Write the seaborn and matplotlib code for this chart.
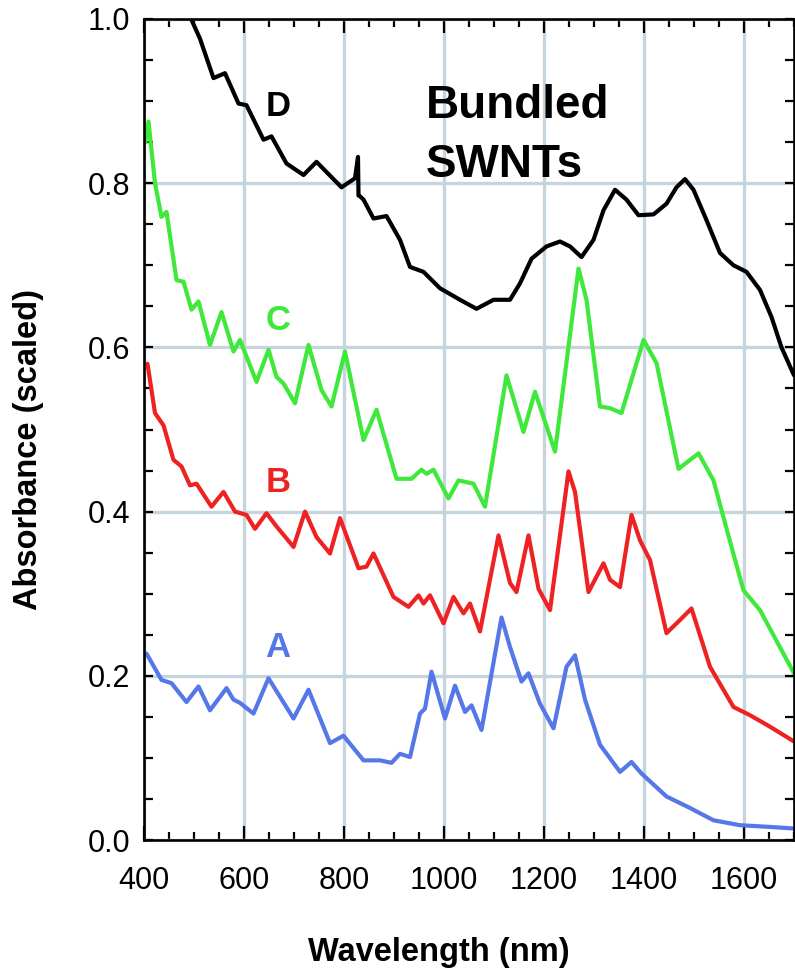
import numpy as np
import pandas as pd
import matplotlib
matplotlib.use("Agg")
import matplotlib.pyplot as plt
from matplotlib.ticker import MultipleLocator, FormatStrFormatter
import seaborn as sns

# ---- data ----
A_nm = [405, 435, 455, 485, 509, 532, 565, 579, 592, 619, 649, 699, 729, 772, 799, 839, 872, 895,
        912, 932, 952, 962, 975, 1002, 1022, 1042, 1055, 1075, 1115, 1132, 1155, 1169, 1192, 1219,
        1245, 1262, 1282, 1312, 1352, 1375, 1395, 1445, 1492, 1539, 1592, 1650, 1700]
A_val = [0.227, 0.195, 0.191, 0.168, 0.187, 0.158, 0.185, 0.171, 0.167, 0.154, 0.197, 0.148, 0.183,
         0.118, 0.127, 0.097, 0.097, 0.094, 0.105, 0.101, 0.154, 0.160, 0.205, 0.148, 0.188, 0.156,
         0.164, 0.134, 0.271, 0.235, 0.193, 0.203, 0.166, 0.136, 0.211, 0.225, 0.171, 0.116, 0.083,
         0.095, 0.081, 0.053, 0.039, 0.024, 0.018, 0.016, 0.014]

B_nm = [407, 422, 439, 459, 475, 492, 505, 535, 559, 582, 605, 622, 645, 665, 699, 722, 745, 772,
        792, 829, 845, 859, 899, 929, 949, 959, 972, 999, 1019, 1039, 1052, 1072, 1109, 1132, 1145,
        1169, 1189, 1212, 1249, 1262, 1289, 1319, 1332, 1352, 1375, 1392, 1412, 1445, 1472, 1495,
        1532, 1579, 1612, 1652, 1700]
B_val = [0.580, 0.520, 0.505, 0.463, 0.455, 0.432, 0.434, 0.406, 0.424, 0.400, 0.396, 0.379, 0.398,
         0.382, 0.357, 0.400, 0.369, 0.349, 0.392, 0.331, 0.333, 0.349, 0.296, 0.284, 0.298, 0.288,
         0.298, 0.264, 0.296, 0.276, 0.288, 0.254, 0.371, 0.313, 0.302, 0.371, 0.306, 0.280, 0.449,
         0.424, 0.302, 0.337, 0.317, 0.308, 0.396, 0.365, 0.341, 0.252, 0.268, 0.282, 0.211, 0.162,
         0.152, 0.138, 0.120]

C_nm = [403, 409, 422, 435, 445, 465, 479, 495, 509, 532, 555, 579, 592, 625, 649, 665, 679, 702,
        729, 755, 775, 802, 839, 865, 905, 935, 955, 965, 979, 1009, 1029, 1059, 1082, 1125, 1159,
        1182, 1222, 1269, 1285, 1312, 1332, 1355, 1399, 1425, 1469, 1509, 1539, 1575, 1599, 1632, 1700]
C_val = [0.850, 0.875, 0.800, 0.759, 0.765, 0.682, 0.680, 0.646, 0.656, 0.603, 0.643, 0.595, 0.609,
         0.558, 0.597, 0.564, 0.556, 0.532, 0.603, 0.548, 0.528, 0.595, 0.487, 0.524, 0.440, 0.440,
         0.451, 0.446, 0.451, 0.416, 0.438, 0.434, 0.406, 0.566, 0.497, 0.546, 0.473, 0.696, 0.658,
         0.528, 0.526, 0.520, 0.609, 0.581, 0.452, 0.471, 0.438, 0.357, 0.304, 0.280, 0.203]

D_nm = [480, 495, 512, 539, 562, 589, 605, 639, 655, 685, 719, 745, 795, 822, 828, 829, 832, 839,
        859, 885, 912, 932, 959, 992, 1032, 1065, 1099, 1132, 1152, 1175, 1205, 1232, 1252, 1275,
        1299, 1319, 1342, 1365, 1389, 1419, 1445, 1465, 1482, 1499, 1525, 1552, 1579, 1605, 1632,
        1655, 1675, 1700]
D_val = [1.020, 0.999, 0.976, 0.928, 0.934, 0.897, 0.895, 0.853, 0.857, 0.824, 0.810, 0.826, 0.795,
         0.806, 0.832, 0.785, 0.784, 0.780, 0.757, 0.760, 0.731, 0.698, 0.692, 0.672, 0.658, 0.647,
         0.658, 0.658, 0.678, 0.708, 0.723, 0.729, 0.723, 0.710, 0.731, 0.767, 0.792, 0.780, 0.761,
         0.762, 0.775, 0.795, 0.805, 0.792, 0.755, 0.715, 0.700, 0.692, 0.670, 0.637, 0.600, 0.566]

series_names = ["A", "B", "C", "D"]
series_colors = {"A": "#5577e8", "B": "#ee2222", "C": "#3fe83a", "D": "#000000"}
label_pos_nm = [668, 668, 668, 668]
label_pos_val = [0.234, 0.435, 0.633, 0.894]
x_ticks = [400, 600, 800, 1000, 1200, 1400, 1600]

frames = []
for name, xs, ys in zip(series_names, [A_nm, B_nm, C_nm, D_nm], [A_val, B_val, C_val, D_val]):
    frames.append(pd.DataFrame({"nm": xs, "abs": ys, "series": name}))
df = pd.concat(frames, ignore_index=True)

# ---- styling ----
sns.set_style("white")
plt.rcParams["font.family"] = ["Liberation Sans", "DejaVu Sans"]
plt.rcParams["text.color"] = "black"
plt.rcParams["axes.labelcolor"] = "black"
plt.rcParams["xtick.color"] = "black"
plt.rcParams["ytick.color"] = "black"

W, H = 795, 969
fig = plt.figure(figsize=(W / 100, H / 100), dpi=100)
L, R, T, B = 144, 794, 19, 840
ax = fig.add_axes([L / W, (H - B) / H, (R - L) / W, (B - T) / H])

for name in series_names:
    sub = df[df["series"] == name]
    sns.lineplot(data=sub, x="nm", y="abs", sort=False, estimator=None, ax=ax,
                 color=series_colors[name], linewidth=3.0, legend=False,
                 solid_joinstyle="round", solid_capstyle="round")

ax.set_xlim(400, 1700)
ax.set_ylim(0, 1.0)
ax.xaxis.set_major_locator(plt.FixedLocator(x_ticks))
ax.xaxis.set_minor_locator(MultipleLocator(50))
ax.yaxis.set_major_locator(MultipleLocator(0.2))
ax.yaxis.set_minor_locator(MultipleLocator(0.05))
ax.yaxis.set_major_formatter(FormatStrFormatter("%.1f"))

ax.grid(True, which="major", color="#c6d4de", linewidth=2.4)
ax.set_axisbelow(True)

for sp in ax.spines.values():
    sp.set_linewidth(1.9)
    sp.set_color("black")

ax.tick_params(axis="x", which="major", direction="in", length=10, width=1.6,
               top=True, bottom=True, labelsize=22, pad=19, colors="black")
ax.tick_params(axis="x", which="minor", direction="in", length=5.5, width=1.6,
               top=True, bottom=True, colors="black")
ax.tick_params(axis="y", which="both", direction="in", length=6.5, width=1.6,
               left=True, right=True, colors="black")
ax.tick_params(axis="y", which="major", labelsize=22, pad=10)

ax.set_xlabel("Wavelength (nm)", fontsize=23.5, fontweight="bold", color="black")
ax.set_ylabel("Absorbance (scaled)", fontsize=23.5, fontweight="bold", color="black")
ax.xaxis.set_label_coords((439 - L) / (R - L), (B - 952) / (B - T))
ax.xaxis.label.set_va("center")
ax.yaxis.set_label_coords((28 - L) / (R - L), (B - 449) / (B - T))
ax.yaxis.label.set_va("center")
ax.yaxis.label.set_ha("center")

for name, xn, yv in zip(series_names, label_pos_nm, label_pos_val):
    ax.text(xn, yv, name, color=series_colors[name], fontsize=25, fontweight="bold",
            ha="center", va="center")

ax.text(964, 0.879, "Bundled", fontsize=33, fontweight="bold", ha="left", va="baseline",
        color="black")
ax.text(964, 0.808, "SWNTs", fontsize=33, fontweight="bold", ha="left", va="baseline",
        color="black")

fig.savefig("out.png", dpi=100)
